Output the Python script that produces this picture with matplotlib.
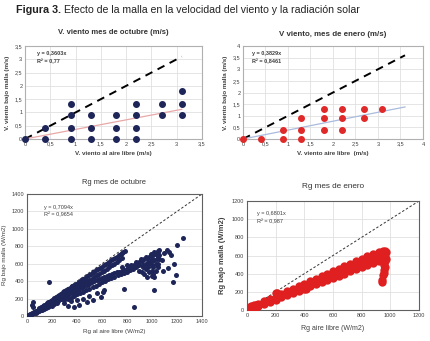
import matplotlib
matplotlib.use("Agg")
import matplotlib.pyplot as plt
from matplotlib import font_manager

# --- datos: velocidad del viento ---
vo_x = [0, 0.4, 0.4, 0.9, 0.9, 0.9, 0.9, 1.3, 1.3, 1.3, 1.8, 1.8, 1.8,
        2.2, 2.2, 2.2, 2.2, 2.7, 2.7, 3.1, 3.1, 3.1]
vo_y = [0, 0, 0.4, 0, 0.4, 0.9, 1.3, 0, 0.4, 0.9, 0, 0.4, 0.9,
        0, 0.4, 0.9, 1.3, 0.9, 1.3, 0.9, 1.3, 1.8]
vo_slope = 0.3603
vo_r2 = "0,77"
vo_xmax = 3.1

ve_x = [0, 0.4, 0.9, 0.9, 1.3, 1.3, 1.3, 1.8, 1.8, 1.8, 2.2, 2.2, 2.2, 2.7, 2.7, 3.1]
ve_y = [0, 0, 0, 0.4, 0, 0.4, 0.9, 0.4, 0.9, 1.3, 0.4, 0.9, 1.3, 0.9, 1.3, 1.3]
ve_slope = 0.3829
ve_r2 = "0,8461"
ve_xmax = 3.6

rgo_x = [5, 10, 15, 20, 25, 30, 35, 40, 45, 42, 48, 50, 55, 60, 70, 80, 90, 100, 110, 120,
         130, 140, 150, 160, 170, 180, 190, 200, 210, 220, 230, 240, 60, 80, 100, 120, 140,
         160, 180, 200, 220, 240, 100, 130, 160, 190, 220, 250, 175,
         15, 30, 50, 70, 90, 110, 130, 150, 170, 190, 210, 230, 250, 270, 290,
         110, 140, 170, 200, 230, 260,
         270, 300, 330, 360, 390, 420, 450, 480, 510, 540, 570, 600, 630, 660, 690, 720,
         750, 770, 785,
         285, 315, 345, 375, 405, 435, 465, 495, 525, 555, 585, 615, 645, 675, 705, 735, 760,
         280, 320, 360, 400, 440, 480, 520, 560, 600, 640, 680, 720, 760,
         300, 340, 380, 420, 460, 500, 540, 580, 620, 660, 700, 740,
         260, 300, 340, 380, 420, 460, 500, 540, 580, 620, 660, 700, 740, 780, 820, 860,
         900, 940, 980, 1020, 1050, 1060, 1040, 1000,
         320, 360, 400, 440, 480, 520, 560, 600, 640, 680, 720, 760, 800, 840, 880, 920,
         960, 1000, 1030, 830, 870, 910, 950, 990, 1020, 1045, 800, 760,
         300, 350, 400, 450, 500, 550, 600, 650, 700, 750, 800, 850, 900, 950,
         325, 375, 425, 475, 525, 575, 625, 675, 725, 775, 825, 875, 925, 975,
         300, 330, 380, 420, 450, 480, 500, 530, 560, 590, 610, 620, 400, 350,
         900, 920, 950, 970, 990, 1000, 1010, 1020, 1030, 1040, 1050, 960, 980, 1000, 1040, 1060,
         930, 960, 990, 1010, 1030, 1050, 1060, 940, 1000, 1020, 970, 1050,
         780, 860, 1020, 1165, 1195, 1180, 1200, 1245, 1140, 1120, 1100, 1130, 1080, 1090, 1150]
rgo_y = [3, 8, 10, 15, 18, 22, 25, 30, 160, 130, 100, 40, 45, 48, 55, 60, 70, 80, 85, 95,
         100, 110, 120, 130, 140, 150, 160, 170, 180, 190, 200, 210, 30, 45, 60, 70, 85,
         100, 110, 120, 140, 150, 95, 120, 150, 175, 210, 235, 385,
         5, 15, 30, 40, 55, 65, 80, 95, 105, 125, 140, 160, 170, 190, 210,
         100, 125, 155, 185, 215, 240,
         255, 285, 310, 340, 370, 395, 425, 455, 485, 510, 540, 565, 595, 625, 650, 680,
         710, 730, 745,
         270, 300, 325, 355, 380, 410, 440, 470, 500, 525, 555, 580, 610, 640, 665, 695, 720,
         230, 265, 300, 335, 370, 400, 430, 470, 500, 540, 580, 620, 660,
         250, 285, 320, 350, 385, 415, 450, 485, 520, 560, 600, 640,
         190, 220, 250, 280, 310, 340, 370, 400, 420, 450, 470, 490, 510, 530, 560, 590,
         620, 650, 680, 710, 740, 760, 720, 700,
         235, 265, 295, 325, 355, 385, 410, 435, 460, 480, 500, 520, 545, 575, 605, 635,
         665, 690, 720, 590, 620, 650, 680, 710, 735, 750, 580, 560,
         180, 210, 250, 280, 310, 350, 390, 420, 450, 480, 510, 540, 580, 600,
         195, 230, 265, 295, 330, 370, 405, 435, 465, 495, 525, 560, 590, 610,
         150, 120, 100, 130, 200, 160, 230, 180, 260, 220, 280, 300, 180, 170,
         520, 500, 540, 560, 620, 520, 480, 450, 600, 650, 560, 450, 500, 580, 700, 700,
         560, 600, 650, 560, 520, 600, 650, 480, 460, 640, 620, 680,
         305, 100, 295, 390, 470, 600, 815, 900, 740, 760, 720, 550, 640, 520, 700]
rgo_slope = 0.7094
rgo_r2 = "0,9654"

# --- datos: radiacion enero ---
rge_x = [0, 0, 0, 20, 20, 20, 40, 40, 40, 60, 60, 60, 80, 80, 80, 120, 120, 120,
         160, 160, 160, 200, 200, 200, 240, 240, 240, 280, 280, 280, 320, 320, 320,
         360, 360, 360, 400, 400, 400, 440, 440, 440, 480, 480, 480, 520, 520, 520,
         560, 560, 560, 600, 600, 600, 640, 640, 640, 680, 680, 680, 720, 720, 720,
         760, 760, 760, 800, 800, 800, 840, 840, 840, 880, 880, 880, 920, 920, 920,
         950, 950, 950,
         960, 965, 960, 962, 958, 960, 955, 958, 952, 945, 945, 970, 968, 940,
         410, 210, 30, 50]
rge_y = [0, 5, 15, 5, 15, 30, 20, 30, 45, 30, 40, 55, 40, 55, 65, 65, 80, 95,
         90, 105, 125, 115, 135, 190, 140, 160, 180, 165, 185, 205, 185, 210, 230,
         210, 235, 260, 235, 265, 290, 260, 290, 315, 285, 315, 345, 305, 340, 370,
         330, 365, 400, 350, 390, 430, 375, 420, 455, 400, 445, 485, 425, 470, 510,
         450, 495, 540, 470, 520, 565, 495, 545, 590, 520, 570, 615, 540, 595, 640,
         560, 610, 655,
         650, 620, 580, 540, 500, 470, 440, 410, 380, 330, 305, 640, 560, 600,
         235, 190, 40, 50]
rge_slope = 0.6801
rge_r2 = "0,987"

names = {f.name for f in font_manager.fontManager.ttflist}
fam = "Liberation Sans Narrow" if "Liberation Sans Narrow" in names else "Liberation Sans"
plt.rcParams["font.family"] = [fam, "DejaVu Sans"]

W, H = 431, 341
fig = plt.figure(figsize=(W / 100, H / 100), dpi=100)
r = fig.canvas.get_renderer()

def box(l, t, r_, b):
    return fig.add_axes([l / W, 1 - b / H, (r_ - l) / W, (b - t) / H])

def fit(t, width_px):
    # encoger el texto hasta el ancho medido en la referencia
    w = t.get_window_extent(renderer=r).width
    if w > width_px:
        t.set_fontsize(t.get_fontsize() * width_px / w)

txtc = "#404040"

def style(ax, spine_c="#b0b0b0", vgrid=True):
    for s in ax.spines.values():
        s.set_color(spine_c)
        s.set_linewidth(0.8)
    ax.grid(True, axis="y", color="#e0e0e0", lw=0.6)
    if vgrid:
        ax.grid(True, axis="x", color="#e0e0e0", lw=0.6)
    ax.set_axisbelow(True)
    ax.tick_params(length=0, labelsize=4, colors=txtc, pad=2)

def comma(v):
    return ("%g" % v).replace(".", ",")

def title(ax, s, y_px, width_px, size, weight):
    bb = ax.get_position()
    t = fig.text((bb.x0 + bb.x1) / 2, 1 - y_px / H, s, ha="center", va="center",
                 fontsize=size, fontweight=weight, color="#333333")
    fit(t, width_px)

# V. viento octubre
ax1 = box(25, 46, 202, 139)
style(ax1)
ax1.plot([0, vo_xmax], [0, vo_xmax], "--", color="black", lw=1.4, dashes=(4, 3))
ax1.plot([0, vo_xmax], [0, vo_slope * vo_xmax], color="#e8a8a8", lw=0.9)
ax1.scatter(vo_x, vo_y, s=16, color="#1e2558", zorder=3, clip_on=False)
ax1.set_xlim(0, 3.5)
ax1.set_ylim(0, 3.5)
ticks = [0, 0.5, 1, 1.5, 2, 2.5, 3, 3.5]
ax1.set_xticks(ticks, [comma(t) for t in ticks])
ax1.set_yticks(ticks, [comma(t) for t in ticks])
title(ax1, "V. viento mes de octubre (m/s)", 33, 110, 7, "bold")
ax1.set_xlabel("V. viento al aire libre (m/s)", fontsize=4.5, fontweight="bold", color=txtc, labelpad=3)
ax1.set_ylabel("V. viento bajo malla (m/s)", fontsize=4.5, fontweight="bold", color=txtc, labelpad=3)
ax1.text(0.07, 0.88, "y = %sx" % comma(vo_slope) + "\nR² = " + vo_r2,
         transform=ax1.transAxes, fontsize=4, color=txtc, fontweight="bold", va="center",
         linespacing=1.6)

# V viento enero
ax2 = box(243, 46, 423, 139)
style(ax2)
ax2.plot([0, ve_xmax], [0, ve_xmax], "--", color="black", lw=1.4, dashes=(4, 3))
ax2.plot([0, ve_xmax], [0, ve_slope * ve_xmax], color="#aabbdd", lw=0.9)
ax2.scatter(ve_x, ve_y, s=16, color="#e02a2a", zorder=3, clip_on=False)
ax2.set_xlim(0, 4)
ax2.set_ylim(0, 4)
ticks = [0, 0.5, 1, 1.5, 2, 2.5, 3, 3.5, 4]
ax2.set_xticks(ticks, [comma(t) for t in ticks])
ax2.set_yticks(ticks, [comma(t) for t in ticks])
title(ax2, "V viento, mes de enero (m/s)", 35, 107, 7, "bold")
ax2.set_xlabel("V. viento aire libre  (m/s)", fontsize=4.5, fontweight="bold", color=txtc, labelpad=3)
ax2.set_ylabel("V. viento bajo malla (m/s)", fontsize=4.5, fontweight="bold", color=txtc, labelpad=3)
ax2.text(0.05, 0.88, "y = %sx" % comma(ve_slope) + "\nR² = " + ve_r2,
         transform=ax2.transAxes, fontsize=4, color=txtc, fontweight="bold", va="center",
         linespacing=1.6)

# Rg octubre
ax3 = box(27, 194, 202, 316)
style(ax3, spine_c="#606060", vgrid=False)
ax3.plot([0, 1400], [0, 1400], "--", color="#333333", lw=0.7, dashes=(2.5, 2))
ax3.scatter(rgo_x, rgo_y, s=13, color="#1e2558", zorder=3, lw=0)
ax3.set_xlim(0, 1400)
ax3.set_ylim(0, 1400)
ticks = range(0, 1401, 200)
ax3.set_xticks(ticks)
ax3.set_yticks(ticks)
title(ax3, "Rg mes de octubre", 182, 64, 6.5, "normal")
ax3.set_xlabel("Rg al aire libre (W/m2)", fontsize=4.5, color=txtc, labelpad=4)
ax3.set_ylabel("Rg bajo malla (W/m2)", fontsize=4.5, color=txtc, labelpad=3)
ax3.text(0.1, 0.86, "y = %sx" % comma(rgo_slope) + "\nR² = " + rgo_r2,
         transform=ax3.transAxes, fontsize=4, color=txtc, va="center", linespacing=1.6)

# Rg enero
ax4 = box(247, 201, 419, 310)
style(ax4, spine_c="#606060")
ax4.plot([0, 1200], [0, 1200], "--", color="#333333", lw=0.7, dashes=(2.5, 2))
ax4.scatter(rge_x, rge_y, s=36, color="#e02020", zorder=3, lw=0)
ax4.set_xlim(0, 1200)
ax4.set_ylim(0, 1200)
ticks = range(0, 1201, 200)
ax4.set_xticks(ticks)
ax4.set_yticks(ticks)
title(ax4, "Rg mes de enero", 187, 62, 7, "normal")
ax4.set_xlabel("Rg aire libre (W/m2)", fontsize=5, color=txtc, labelpad=5)
ax4.set_ylabel("Rg bajo malla (W/m2)", fontsize=5.5, fontweight="bold", color=txtc, labelpad=4)
ax4.text(0.06, 0.85, "y = %sx" % comma(rge_slope) + "\nR² = " + rge_r2,
         transform=ax4.transAxes, fontsize=4, color=txtc, va="center", linespacing=1.6)

# titulo de figura
t1 = fig.text(16 / W, 1 - 10 / H, "Figura 3.", fontsize=9, fontweight="bold",
              color="#222222", va="center")
t2 = fig.text(0, 1 - 10 / H, "Efecto de la malla en la velocidad del viento y la radiación solar",
              fontsize=9, color="#222222", va="center")
fit(t1, 45)
fit(t2, 298)
bb = t1.get_window_extent(renderer=r)
t2.set_x((bb.x1 + 3) / W)

fig.savefig("out.png", dpi=100)
